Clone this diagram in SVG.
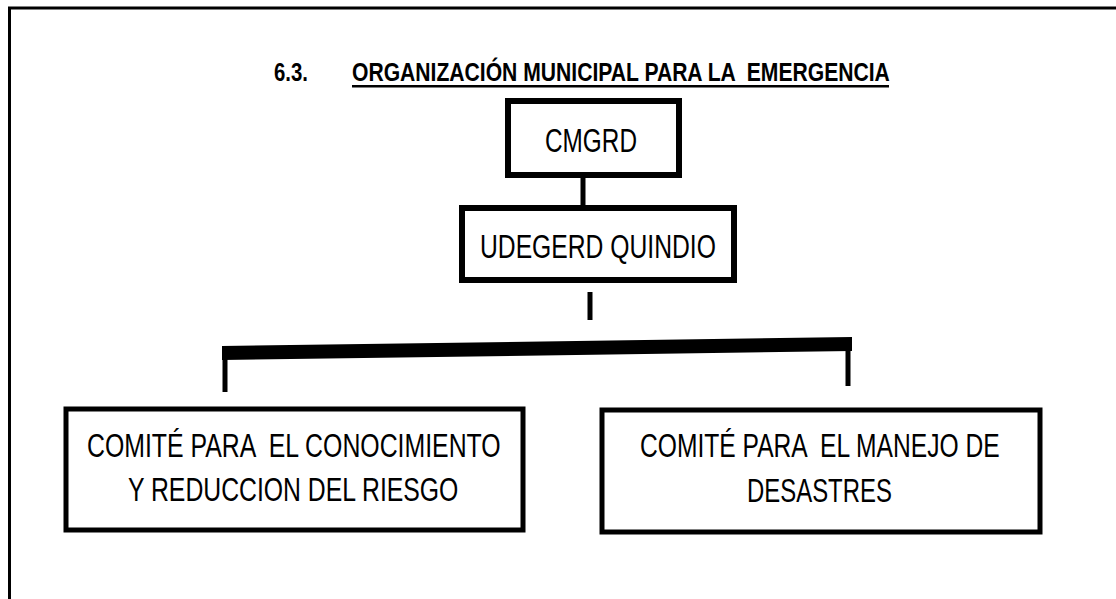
<svg xmlns="http://www.w3.org/2000/svg" width="1116" height="599" viewBox="0 0 1116 599">
<style>
.box{fill:#fff;stroke:#000;stroke-width:6}
.sbox{fill:#fff;stroke:#000;stroke-width:5}
.t{font-family:"Liberation Sans",Arial,sans-serif;fill:#000;white-space:pre}
.tt{font-weight:bold;font-size:25px}
.b{font-size:33px}
.h{font-size:34px}
.conn{stroke:#000;stroke-width:5;fill:none}
</style>
<rect width="1116" height="599" fill="#fff"/>
<path d="M9.5 599 V8 H1116" fill="none" stroke="#000" stroke-width="3"/>
<g id="title">
<text class="t tt" transform="translate(274 81) scale(0.815 1)">6.3.</text>
<text class="t tt" transform="translate(352 81) scale(0.845 1)">ORGANIZACIÓN MUNICIPAL PARA LA  EMERGENCIA</text>
<rect x="352" y="85" width="537" height="2.5" fill="#000"/>
</g>
<g id="connectors">
<line class="conn" x1="583" y1="178" x2="583" y2="205"/>
<line class="conn" x1="590" y1="292" x2="590" y2="320"/>
<polygon points="222,346 852,337 852,351 222,360" fill="#000"/>
<line class="conn" x1="225" y1="358" x2="225" y2="392"/>
<line class="conn" x1="848" y1="350" x2="848" y2="386"/>
</g>
<g id="cmgrd">
<rect class="box" x="508" y="101" width="171" height="74"/>
<text class="t h" transform="translate(545 152) scale(0.7165 1)">CMGRD</text>
</g>
<g id="udegerd">
<rect class="box" x="462" y="208" width="272" height="72"/>
<text class="t h" transform="translate(480 258) scale(0.7264 1)">UDEGERD QUINDIO</text>
</g>
<g id="comite-conocimiento">
<rect class="sbox" x="66" y="409" width="457" height="121"/>
<text class="t b" transform="translate(87 457) scale(0.753 1)">COMITÉ PARA  EL CONOCIMIENTO</text>
<text class="t b" transform="translate(128 501) scale(0.751 1)">Y REDUCCION DEL RIESGO</text>
</g>
<g id="comite-manejo">
<rect class="sbox" x="602" y="410" width="438" height="122"/>
<text class="t b" transform="translate(640 457) scale(0.746 1)">COMITÉ PARA  EL MANEJO DE</text>
<text class="t b" transform="translate(747 502) scale(0.7254 1)">DESASTRES</text>
</g>
</svg>
